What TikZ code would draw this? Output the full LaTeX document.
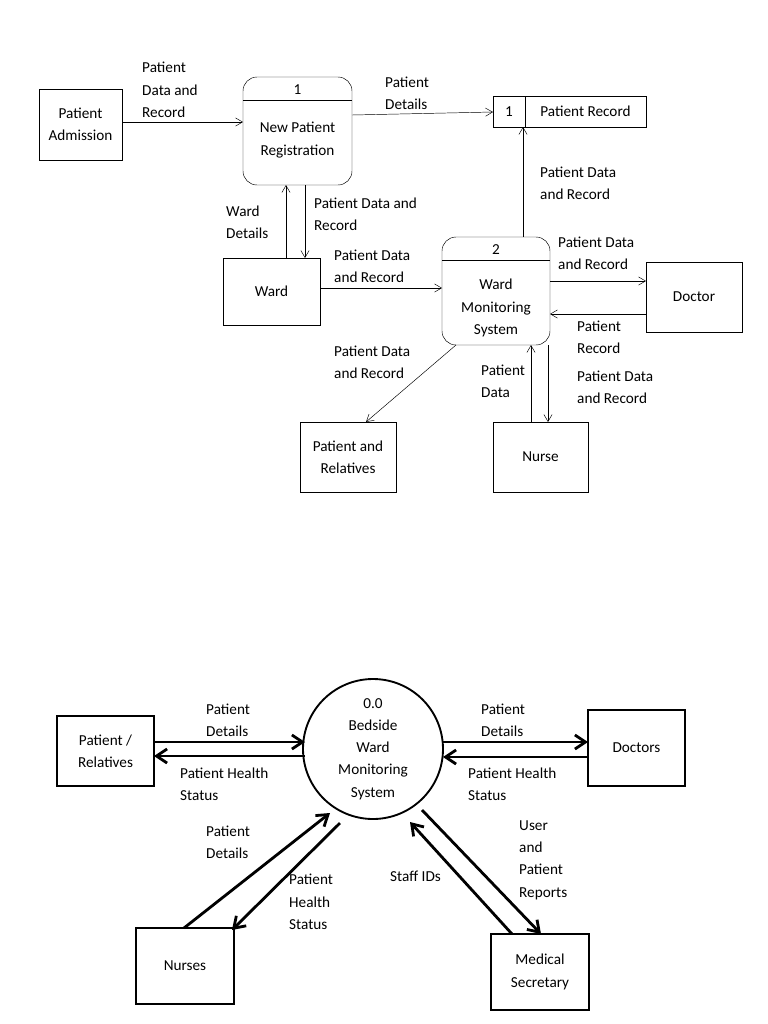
\documentclass[tikz,border=0pt]{standalone}
\usepackage{fontspec}
\setmainfont{Carlito}
\usetikzlibrary{arrows.meta}
\begin{document}
\begin{tikzpicture}[x=0.03cm,y=-0.03cm,
  every node/.style={font=\fontsize{13}{19}\selectfont},
  box/.style={draw,thin,minimum width=0pt,inner sep=0pt},
  flow/.style={-{Straight Barb[length=6pt,width=7pt]},thin},
  bflow/.style={-{Straight Barb[length=9pt,width=12pt]},line width=2.4pt},
  lbl/.style={anchor=west,align=left,inner sep=0pt}]
\useasboundingbox (0,0) rectangle (768,1024);
% ---- top diagram ----
\draw (39,89) rectangle (122,160);
\node[align=center] (adm) at (80.5,124.5) {Patient\\Admission};
\coordinate (admE) at (122,122);
\draw[rounded corners=12pt] (243,77) rectangle (352,185);
\draw (243,100) -- (352,100);
\node at (297.5,90) {1};
\node[align=center] (p1) at (297.5,140) {New Patient\\Registration};
\draw (493,96) rectangle (646,127);
\draw (525,96) -- (525,127);
\node at (509,111.5) {1};
\node (store) at (585.5,111.5) {Patient Record};
\draw (223,258) rectangle (320,325);
\node (ward) at (271.5,291.5) {Ward};
\draw[rounded corners=12pt] (442,237) rectangle (550,345);
\draw (442,260) -- (550,260);
\node at (496,250) {2};
\node[align=center] (p2) at (496,308) {Ward\\Monitoring\\System};
\draw (646,262) rectangle (742,332);
\node (doc) at (694,297) {Doctor};
\draw (300,422) rectangle (396,492);
\node[align=center] (rel) at (348,457) {Patient and\\Relatives};
\draw (493,422) rectangle (588,492);
\node (nurse) at (540.5,457) {Nurse};

\draw[flow] (122,122) -- (243,122);
\node[lbl] at (142,90) {Patient\\Data and\\Record};
\draw[flow] (352,115) -- (493,112);
\node[lbl] at (385,93) {Patient\\Details};
\draw[flow] (523,237) -- (523,127);
\node[lbl] at (540,183) {Patient Data\\and Record};
\draw[flow] (286,258) -- (286,185);
\node[lbl] at (226,222) {Ward\\Details};
\draw[flow] (305,185) -- (305,258);
\node[lbl] at (314,214) {Patient Data and\\Record};
\draw[flow] (320,288) -- (442,288);
\node[lbl] at (334,266) {Patient Data\\and Record};
\draw[flow] (550,281) -- (646,281);
\node[lbl] at (558,253) {Patient Data\\and Record};
\draw[flow] (646,314) -- (550,314);
\node[lbl] at (577,337) {Patient\\Record};
\draw[flow] (456,345) -- (366,422);
\node[lbl] at (334,362) {Patient Data\\and Record};
\draw[flow] (531,422) -- (531,345);
\node[lbl] at (481,381) {Patient\\Data};
\draw[flow] (548,345) -- (548,422);
\node[lbl] at (577,387) {Patient Data\\and Record};

% ---- bottom diagram ----
\draw[line width=1.6pt] (373,749) circle (70);
\node[align=center] (ctx) at (373,749) {0.0\\Bedside\\Ward\\Monitoring\\System};
\draw[line width=1.6pt] (57,716) rectangle (154,786);
\node[align=center] (pr) at (105.5,751) {Patient /\\Relatives};
\draw[line width=1.6pt] (588,710) rectangle (685,786);
\node (docs) at (636.5,748) {Doctors};
\draw[line width=1.6pt] (136,928) rectangle (234,1004);
\node (nurses) at (185,966) {Nurses};
\draw[line width=1.6pt] (491,934) rectangle (589,1010);
\node[align=center] (sec) at (540,972) {Medical\\Secretary};

\draw[bflow] (154,742) -- (305,742);
\node[lbl] at (206,720) {Patient\\Details};
\draw[bflow] (305,756) -- (154,756);
\node[lbl] at (180,784) {Patient Health\\Status};
\draw[bflow] (443,742) -- (588,742);
\node[lbl] at (481,720) {Patient\\Details};
\draw[bflow] (588,757) -- (443,757);
\node[lbl] at (468,784) {Patient Health\\Status};
\draw[bflow] (184,928) -- (330,813);
\node[lbl] at (206,842) {Patient\\Details};
\draw[bflow] (340,823) -- (232,930);
\node[lbl] at (289,902) {Patient\\Health\\Status};
\draw[bflow] (512,934) -- (410,822);
\node[lbl] at (390,876) {Staff IDs};
\draw[bflow] (422,810) -- (541,934);
\node[lbl] at (519,860) {User\\and\\Patient\\Reports};
\end{tikzpicture}
\end{document}
